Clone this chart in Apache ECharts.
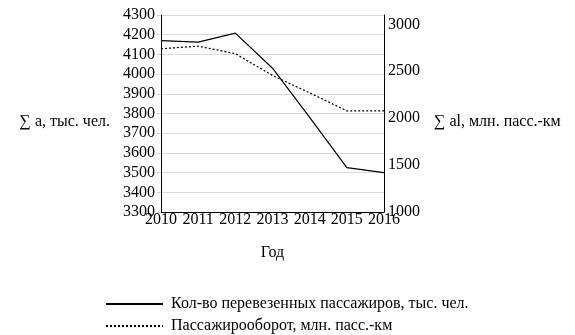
<!DOCTYPE html>
<html>
<head>
<meta charset="utf-8">
<script src="https://cdn.jsdelivr.net/npm/echarts@6/dist/echarts.min.js"></script>
<style>html,body{margin:0;padding:0;background:#fff}#c{width:575px;height:335px}</style>
</head>
<body>
<div id="c"></div>
<script>
const years = ['2010','2011','2012','2013','2014','2015','2016'];
const passengers = [4170, 4162, 4208, 4030, 3780, 3525, 3500];
const turnover = [2740, 2768, 2688, 2455, 2270, 2078, 2078];
const seriesNames = ['Кол-во перевезенных пассажиров, тыс. чел.', 'Пассажирооборот, млн. пасс.-км'];
const leftName = '∑ a, тыс. чел.';
const rightName = '∑ al, млн. пасс.-км';
const xName = 'Год';

const font = 'Liberation Serif';
const txt = {fontFamily: font, fontSize: 16, color: '#000'};
const plain = v => String(v);
function legendFor(i, top) {
  return {
    orient: 'vertical', left: 100, top: top, itemWidth: 57, itemHeight: 14, itemGap: 8,
    textStyle: Object.assign({padding: [0, 0, 0, 3]}, txt),
    data: [{name: seriesNames[i], itemStyle: {opacity: 0}}],
    selectedMode: false
  };
}
const chart = echarts.init(document.getElementById('c'), null, {renderer: 'canvas'});
chart.setOption({
  animation: false,
  textStyle: {fontFamily: font},
  grid: {left: 161, right: 191, top: 15, bottom: 123, containLabel: false},
  legend: [legendFor(0, 291), legendFor(1, 313)],
  xAxis: {
    type: 'category', data: years, boundaryGap: false,
    name: xName, nameLocation: 'middle', nameGap: 33, nameTextStyle: txt,
    axisLine: {lineStyle: {color: '#000', width: 1}},
    axisTick: {show: false},
    axisLabel: Object.assign({margin: 0, interval: 0, hideOverlap: false}, txt)
  },
  yAxis: [{
    type: 'value', min: 3300, max: 4300, interval: 100, position: 'left',
    name: leftName, nameLocation: 'middle', nameRotate: 0, nameGap: 51,
    nameTextStyle: Object.assign({align: 'right', verticalAlign: 'top'}, txt),
    axisLine: {show: true, lineStyle: {color: '#000', width: 1}},
    axisTick: {show: true, length: 4, lineStyle: {color: '#d0d0d0'}},
    splitLine: {lineStyle: {color: '#d9d9d9', width: 1}},
    axisLabel: Object.assign({margin: 6, formatter: plain}, txt)
  }, {
    type: 'value', min: 1000, max: 3100, interval: 500, position: 'right',
    name: rightName, nameLocation: 'middle', nameRotate: 0, nameGap: 50,
    nameTextStyle: Object.assign({align: 'left', verticalAlign: 'top'}, txt),
    axisLine: {show: true, lineStyle: {color: '#000', width: 1}},
    axisTick: {show: false},
    splitLine: {show: false},
    axisLabel: Object.assign({margin: 4, showMaxLabel: false, formatter: plain}, txt)
  }],
  series: [{
    name: seriesNames[0], type: 'line', yAxisIndex: 0, data: passengers,
    symbol: 'none', lineStyle: {color: '#000', width: 1.2}, itemStyle: {color: '#000'}
  }, {
    name: seriesNames[1], type: 'line', yAxisIndex: 1, data: turnover,
    symbol: 'none', lineStyle: {color: '#000', width: 1.2, type: [2, 2]}, itemStyle: {color: '#000'}
  }]
});
</script>
</body>
</html>
